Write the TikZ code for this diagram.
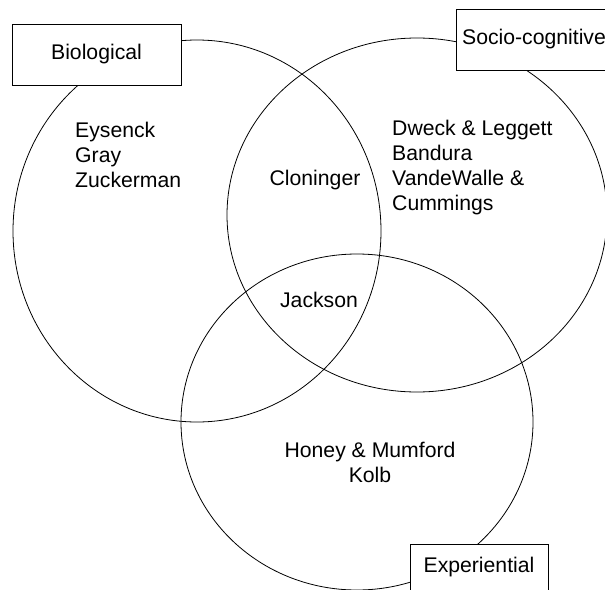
\documentclass[tikz,border=0pt]{standalone}
\usepackage{fontspec}
\setmainfont{Liberation Sans}
\usetikzlibrary{shapes.geometric}

\begin{document}
\begin{tikzpicture}[x=1pt,y=-1pt,
  area/.style={ellipse,draw,thick,inner sep=0pt},
  title/.style={rectangle,draw,thick,fill=white,inner sep=0pt},
  names/.style={inner sep=0pt,font=\fontsize{21.2}{25.3}\selectfont}]
\clip (0,0) rectangle (605,589);
%three overlapping areas
\path (197,231) node(bio)[area,minimum width=368pt,minimum height=382pt]{}
(417,215) node(soc)[area,minimum width=380pt,minimum height=354pt]{}
(357,422) node(exp)[area,minimum width=352pt,minimum height=336pt]{};
%headings
\path (96.5,54.5) node(biot)[title,minimum width=169pt,minimum height=61pt,names]{Biological}
(534,39.5) node(soct)[title,minimum width=156pt,minimum height=61pt,names]{Socio-cognitive}
(479,567) node(expt)[title,minimum width=138pt,minimum height=46pt,names]{Experiential};
%authors
\path (75,155) node(bion)[names,anchor=west,align=left]{Eysenck\\Gray\\Zuckerman}
(392,167.5) node(socn)[names,anchor=west,align=left]{Dweck \& Leggett\\Bandura\\VandeWalle \&\\Cummings}
(315,180) node(bsn)[names]{Cloninger}
(319,299.5) node(alln)[names]{Jackson}
(370,462.5) node(expn)[names,align=center]{Honey \& Mumford\\Kolb};
\end{tikzpicture}
\end{document}
